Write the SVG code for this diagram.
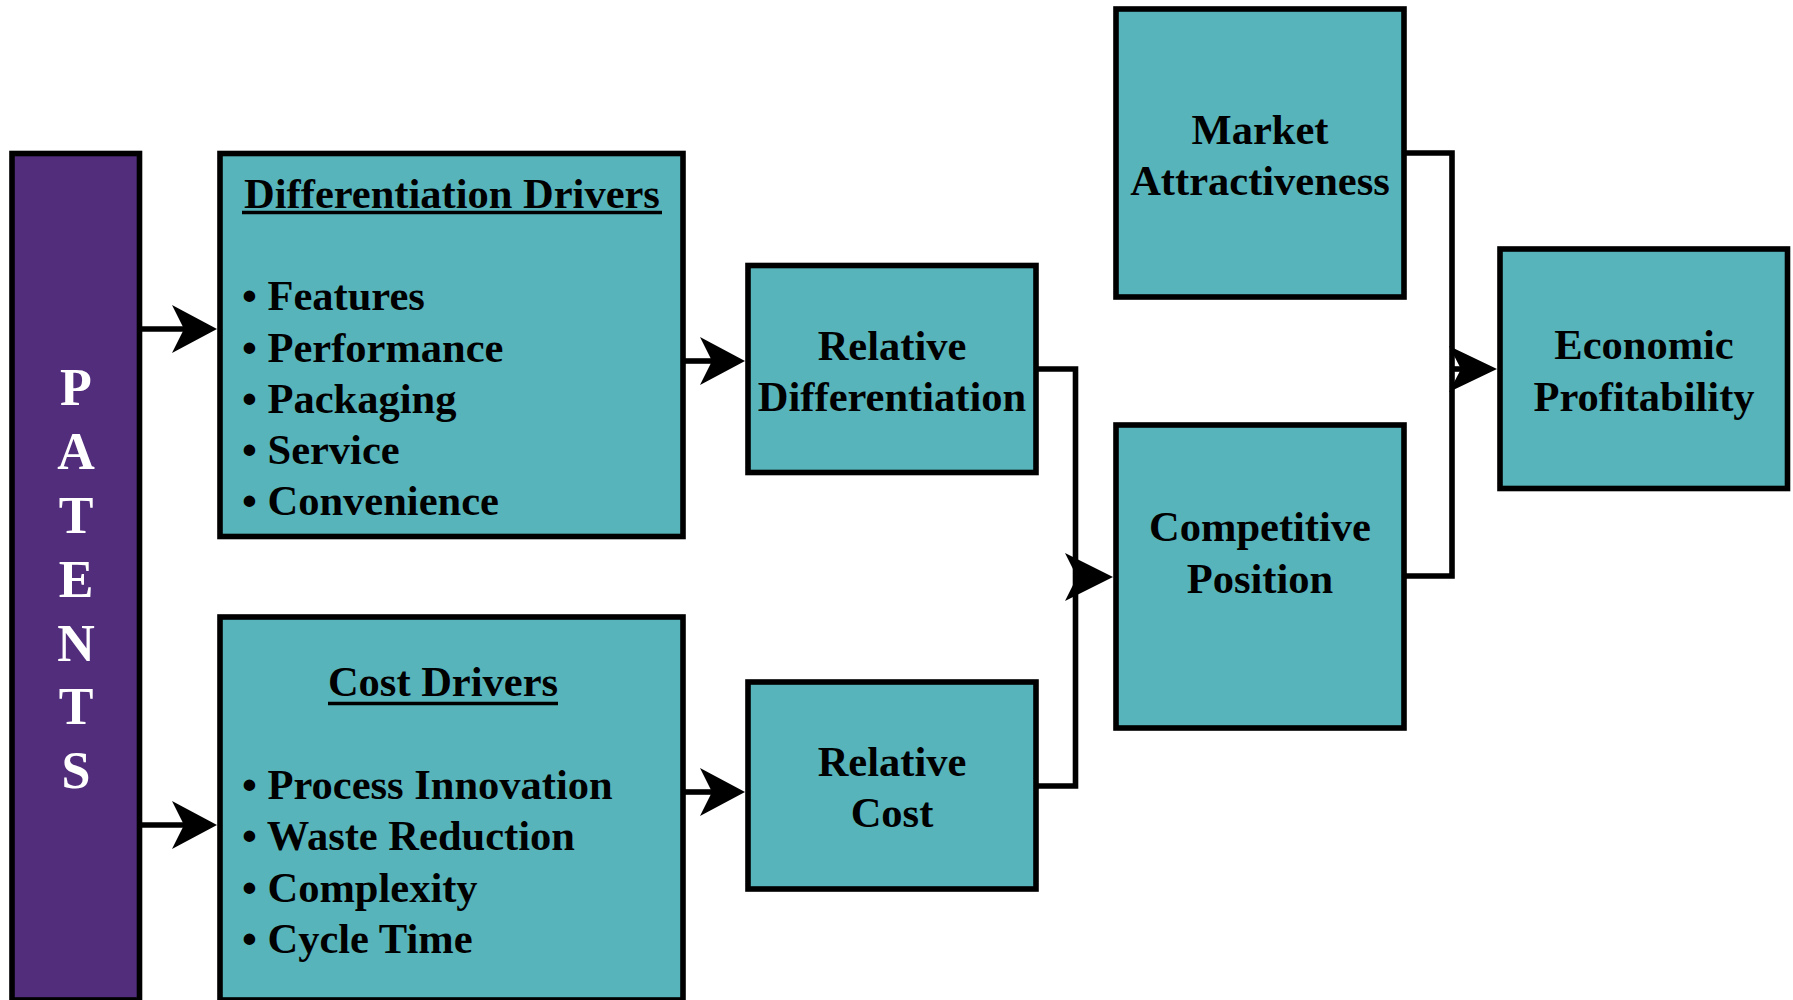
<svg xmlns="http://www.w3.org/2000/svg" width="1793" height="1000" viewBox="0 0 1793 1000">
<style>
.box{fill:#58B4BB;stroke:#000;stroke-width:5.6}
.pat{fill:#512D7B;stroke:#000;stroke-width:5.6}
.t{font-family:"Liberation Serif","Times New Roman",serif;font-weight:bold;font-size:42.5px;fill:#000}
.c{text-anchor:middle}
.pl{font-family:"Liberation Serif","Times New Roman",serif;font-weight:bold;font-size:52px;fill:#fff;text-anchor:middle}
.ln{fill:none;stroke:#000;stroke-width:5.6}
.ul{stroke:#000;stroke-width:3.6}
.ah{fill:#000}
</style>
<rect width="1793" height="1000" fill="#fff"/>
<g id="connectors">
<line class="ln" x1="139" y1="329" x2="186" y2="329"/>
<polygon class="ah" points="217,329 172,305 184,329 172,353"/>
<line class="ln" x1="139" y1="825" x2="186" y2="825"/>
<polygon class="ah" points="217,825 172,801 184,825 172,849"/>
<line class="ln" x1="683" y1="361" x2="714" y2="361"/>
<polygon class="ah" points="745,361 700,337 712,361 700,385"/>
<line class="ln" x1="683" y1="792" x2="714" y2="792"/>
<polygon class="ah" points="745,792 700,768 712,792 700,816"/>
<path class="ln" d="M1036,369 H1075.5 V786 H1036"/>
<polygon class="ah" points="1113,577 1065,553 1077,577 1065,601"/>
<path class="ln" d="M1404,153 H1452 V576 H1404"/>
<line class="ln" x1="1452" y1="369" x2="1463" y2="369"/>
<polygon class="ah" points="1497,369 1449,346 1461,369 1449,392"/>
</g>
<g id="patents">
<rect class="pat" x="12" y="153.5" width="127.5" height="846.5"/>
<text class="pl" x="76" y="405">P</text>
<text class="pl" x="76" y="469">A</text>
<text class="pl" x="76" y="533">T</text>
<text class="pl" x="76" y="597">E</text>
<text class="pl" x="76" y="661">N</text>
<text class="pl" x="76" y="724">T</text>
<text class="pl" x="76" y="788">S</text>
</g>
<g id="differentiation-drivers">
<rect class="box" x="220" y="153.5" width="463" height="383"/>
<text class="t c" x="452" y="208">Differentiation Drivers</text>
<line class="ul" x1="242" y1="212.5" x2="662" y2="212.5"/>
<text class="t" x="242" y="310">• Features</text>
<text class="t" x="242" y="361.5">• Performance</text>
<text class="t" x="242" y="412.5">• Packaging</text>
<text class="t" x="242" y="463.5">• Service</text>
<text class="t" x="242" y="515">• Convenience</text>
</g>
<g id="cost-drivers">
<rect class="box" x="220" y="617" width="463" height="383"/>
<text class="t c" x="443" y="696">Cost Drivers</text>
<line class="ul" x1="328" y1="703.5" x2="558" y2="703.5"/>
<text class="t" x="242" y="799">• Process Innovation</text>
<text class="t" x="242" y="850">• Waste Reduction</text>
<text class="t" x="242" y="902">• Complexity</text>
<text class="t" x="242" y="953">• Cycle Time</text>
</g>
<g id="relative-differentiation">
<rect class="box" x="748" y="265.5" width="288" height="207"/>
<text class="t c" x="892" y="360">Relative</text>
<text class="t c" x="892" y="410.5">Differentiation</text>
</g>
<g id="relative-cost">
<rect class="box" x="748" y="682" width="288" height="207"/>
<text class="t c" x="892" y="776">Relative</text>
<text class="t c" x="892" y="827">Cost</text>
</g>
<g id="market-attractiveness">
<rect class="box" x="1116" y="9" width="288" height="288"/>
<text class="t c" x="1260" y="143.5">Market</text>
<text class="t c" x="1260" y="195">Attractiveness</text>
</g>
<g id="competitive-position">
<rect class="box" x="1116" y="425" width="288" height="303"/>
<text class="t c" x="1260" y="541">Competitive</text>
<text class="t c" x="1260" y="593">Position</text>
</g>
<g id="economic-profitability">
<rect class="box" x="1500" y="249" width="287.5" height="239.5"/>
<text class="t c" x="1644" y="359">Economic</text>
<text class="t c" x="1644" y="411">Profitability</text>
</g>
</svg>
